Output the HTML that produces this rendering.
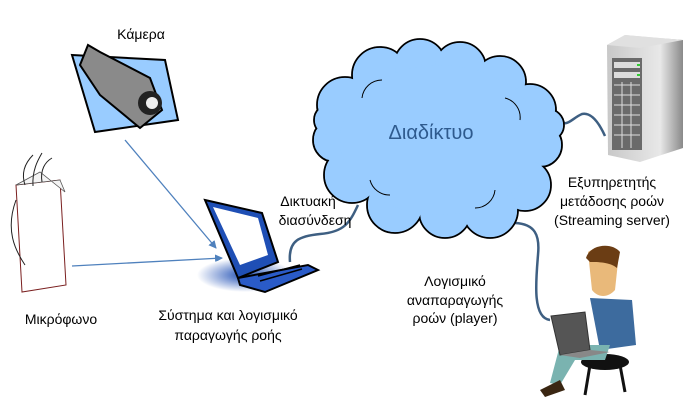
<!DOCTYPE html>
<html><head><meta charset="utf-8"><style>
html,body{margin:0;padding:0;background:#fff;}
svg{display:block;font-family:"Liberation Sans",sans-serif;}
</style></head><body>
<svg width="690" height="407" viewBox="0 0 690 407" xmlns="http://www.w3.org/2000/svg">
<defs>
<marker id="ar" markerWidth="8" markerHeight="8" refX="7" refY="4" orient="auto" markerUnits="userSpaceOnUse"><path d="M0,0 L8,4 L0,8 z" fill="#4f81bd"/></marker>
<radialGradient id="sh" cx="50%" cy="50%" r="50%"><stop offset="0" stop-color="#1f4fb5"/><stop offset="1" stop-color="#fff"/></radialGradient>
<linearGradient id="sv" x1="0" x2="1"><stop offset="0" stop-color="#c8c8c8"/><stop offset="0.7" stop-color="#e8e8e8"/><stop offset="1" stop-color="#8a8a8a"/></linearGradient>
</defs>

<line x1="125" y1="140" x2="216" y2="248" stroke="#4f81bd" stroke-width="1.3" marker-end="url(#ar)"/>
<line x1="72" y1="266" x2="222" y2="258" stroke="#4f81bd" stroke-width="1.3" marker-end="url(#ar)"/>
<path d="M290,262 C288,240 300,236 320,234 C345,232 350,222 358,205" fill="none" stroke="#3e5f82" stroke-width="2.5"/>
<path d="M560,118 C565,130 572,118 582,114 C592,112 600,125 605,136" fill="none" stroke="#3e5f82" stroke-width="2.5"/>
<path d="M515,223 C535,224 540,235 538,255 C536,280 532,318 550,320" fill="none" stroke="#3e5f82" stroke-width="2.5"/>

<g stroke="#000" stroke-width="1.8" fill="#99ccff">
<circle cx="345" cy="105" r="28"/><circle cx="335" cy="140" r="22"/><circle cx="352" cy="175" r="28"/>
<circle cx="380" cy="75" r="28"/><circle cx="420" cy="65" r="26"/><circle cx="460" cy="68" r="26"/>
<circle cx="500" cy="82" r="26"/><circle cx="530" cy="110" r="26"/><circle cx="540" cy="145" r="22"/>
<circle cx="525" cy="185" r="26"/><circle cx="490" cy="210" r="28"/><circle cx="445" cy="212" r="26"/>
<circle cx="395" cy="205" r="28"/><circle cx="548" cy="125" r="16"/><circle cx="330" cy="120" r="16"/>
</g>
<g fill="#99ccff">
<circle cx="345" cy="105" r="27"/><circle cx="335" cy="140" r="21"/><circle cx="352" cy="175" r="27"/>
<circle cx="380" cy="75" r="27"/><circle cx="420" cy="65" r="25"/><circle cx="460" cy="68" r="25"/>
<circle cx="500" cy="82" r="25"/><circle cx="530" cy="110" r="25"/><circle cx="540" cy="145" r="21"/>
<circle cx="525" cy="185" r="25"/><circle cx="490" cy="210" r="27"/><circle cx="445" cy="212" r="25"/>
<circle cx="395" cy="205" r="27"/><circle cx="548" cy="125" r="15"/><circle cx="330" cy="120" r="15"/>
<ellipse cx="440" cy="140" rx="100" ry="75"/>
</g>
<g fill="none" stroke="#000" stroke-width="1">
<path d="M362,98 a20,20 0 0 1 20,-18"/><path d="M505,98 a20,20 0 0 1 15,22"/><path d="M495,190 a20,20 0 0 1 -20,18"/><path d="M370,180 a20,20 0 0 0 20,15"/>
</g>
<text x="431" y="139" font-size="20" fill="#2e5a8e" text-anchor="middle">Διαδίκτυο</text>

<polygon points="72,55 165,60 178,120 95,132" fill="#99ccff" stroke="#000" stroke-width="2"/>
<polygon points="88,45 100,52 150,78 162,110 140,128 100,95 80,65" fill="#8a8a8a" stroke="#000" stroke-width="2"/>
<circle cx="150" cy="103" r="12" fill="#222"/><circle cx="152" cy="103" r="6" fill="#eee"/>
<text x="141" y="39" font-size="14" text-anchor="middle">Κάμερα</text>

<polygon points="16,185 60,180 66,285 22,292" fill="#fff" stroke="#7a1f1f" stroke-width="1"/>
<polygon points="16,185 40,172 65,192 60,180" fill="#f4f4f4" stroke="#555" stroke-width="0.8"/>
<path d="M25,185 C20,170 28,160 33,155 M33,186 C32,170 38,160 42,153 M42,182 C40,170 45,162 52,158" stroke="#222" fill="none"/>
<path d="M16,200 C5,230 15,250 25,265" stroke="#222" fill="none"/>
<text x="61" y="324" font-size="14" text-anchor="middle">Μικρόφωνο</text>

<ellipse cx="245" cy="275" rx="48" ry="17" fill="url(#sh)"/>
<polygon points="205,200 262,213 278,262 238,278" fill="#1f4fb5" stroke="#000" stroke-width="2"/>
<polygon points="213,207 258,218 268,255 240,265" fill="#fff"/>
<polygon points="238,278 308,265 318,270 265,292 240,285" fill="#2a5bc8" stroke="#000" stroke-width="2"/>
<g stroke="#000" stroke-width="1.5"><line x1="260" y1="281" x2="302" y2="269"/><line x1="258" y1="276" x2="300" y2="265"/></g>
<text x="228" y="320" font-size="14" text-anchor="middle">Σύστημα και λογισμικό</text>
<text x="228" y="340" font-size="14" text-anchor="middle">παραγωγής ροής</text>
<text x="308" y="206" font-size="14" text-anchor="middle">Δικτυακή</text>
<text x="315" y="225" font-size="14" text-anchor="middle">διασύνδεση</text>

<polygon points="607,45 625,35 683,40 683,148 640,162 608,155" fill="url(#sv)"/>
<polygon points="607,45 625,35 683,40 640,48" fill="#e0e0e0"/>
<rect x="612" y="58" width="30" height="92" fill="#6a6a6a"/>
<g fill="#ddd"><rect x="614" y="62" width="26" height="6"/><rect x="614" y="72" width="26" height="6"/></g>
<g stroke="#ddd" stroke-width="1"><line x1="614" y1="85" x2="640" y2="85"/><line x1="614" y1="95" x2="640" y2="95"/><line x1="614" y1="105" x2="640" y2="105"/><line x1="614" y1="115" x2="640" y2="115"/><line x1="614" y1="125" x2="640" y2="125"/><line x1="614" y1="135" x2="640" y2="135"/><line x1="622" y1="82" x2="622" y2="148"/><line x1="631" y1="82" x2="631" y2="148"/></g>
<rect x="637" y="64" width="3" height="2" fill="#3c3"/><rect x="637" y="74" width="3" height="2" fill="#3c3"/>
<text x="612" y="187" font-size="14" text-anchor="middle">Εξυπηρετητής</text>
<text x="612" y="206" font-size="14" text-anchor="middle">μετάδοσης ροών</text>
<text x="612" y="225" font-size="14" text-anchor="middle">(Streaming server)</text>

<text x="455" y="286" font-size="14" text-anchor="middle">Λογισμικό</text>
<text x="455" y="305" font-size="14" text-anchor="middle">αναπαραγωγής</text>
<text x="455" y="323" font-size="14" text-anchor="middle">ροών (player)</text>

<path d="M588,252 C600,244 618,248 618,262 L615,290 C608,298 598,298 592,290 Z" fill="#e9b97a"/>
<path d="M586,258 C590,244 612,242 620,252 L617,268 C610,262 598,262 590,262 Z" fill="#6b3d14"/>
<path d="M590,298 L632,300 L636,345 L600,350 Z" fill="#3d6b9e"/>
<ellipse cx="605" cy="362" rx="24" ry="8" fill="#111"/>
<line x1="590" y1="365" x2="585" y2="395" stroke="#111" stroke-width="3"/><line x1="620" y1="365" x2="625" y2="392" stroke="#111" stroke-width="3"/>
<path d="M560,345 L610,345 L605,360 L575,360 L560,385 L550,383 Z" fill="#7ab3b0"/>
<path d="M540,390 L560,380 L565,390 L545,397 Z" fill="#3a2612"/>
<polygon points="551,316 585,312 590,350 560,355" fill="#555" stroke="#333"/>
<polygon points="560,355 590,350 610,352 580,358" fill="#888"/>
</svg>
</body></html>
